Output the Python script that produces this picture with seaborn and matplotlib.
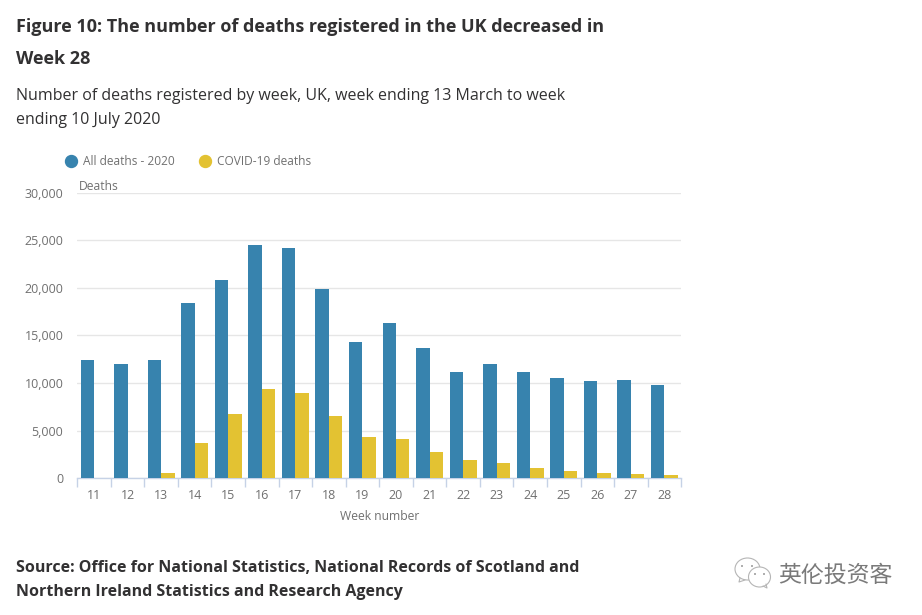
import numpy as np
import pandas as pd
import matplotlib
matplotlib.use("Agg")
import matplotlib.pyplot as plt
from matplotlib.lines import Line2D
from matplotlib.patches import Ellipse
from matplotlib.ticker import FuncFormatter, FixedLocator
import seaborn as sns

weeks = [str(w) for w in range(11, 29)]
all_deaths = [12440, 11990, 12440, 18420, 20830, 24490, 24180, 19880, 14290,
              16290, 13690, 11140, 11990, 11140, 10490, 10240, 10290, 9790]
covid_deaths = [0, 0, 550, 3700, 6740, 9360, 8940, 6530, 4300,
                4100, 2750, 1900, 1600, 1050, 750, 550, 400, 300]
series_names = ["All deaths - 2020", "COVID-19 deaths"]
colors = ["#3783ae", "#e3c232"]

sns.set_theme(style="white")
plt.rcParams["font.family"] = ["Open Sans", "DejaVu Sans"]

W, H = 922, 615
fig = plt.figure(figsize=(W / 100, H / 100), dpi=100, facecolor="white")
ax = fig.add_axes([77.2 / W, 1 - 478.2 / H, 604 / W, 285.6 / H])

df = pd.DataFrame({
    "week": weeks * 2,
    "deaths": all_deaths + covid_deaths,
    "series": [series_names[0]] * 18 + [series_names[1]] * 18,
})
sns.barplot(data=df, x="week", y="deaths", hue="series", hue_order=series_names,
            palette=colors, saturation=1, width=0.8, dodge=True, gap=0,
            legend=False, ax=ax, zorder=3, linewidth=0)

ax.set_xlim(-0.5, 17.5)
ax.set_ylim(0, 30000)
ax.set_yticks(range(0, 30001, 5000))
ax.yaxis.set_major_formatter(FuncFormatter(lambda v, _: f"{int(v):,}"))
ax.grid(axis="y", color="#e6e6e6", linewidth=1, zorder=0)
ax.set_axisbelow(True)
for s in ["top", "right", "left"]:
    ax.spines[s].set_visible(False)
ax.spines["bottom"].set_color("#c6d2e6")
ax.spines["bottom"].set_linewidth(1.0)
ax.tick_params(axis="y", length=0, labelsize=9.0, labelcolor="#707070", pad=10)
ax.tick_params(axis="x", which="major", length=0, labelsize=9.0, labelcolor="#707070", pad=7.5)
ax.xaxis.set_minor_locator(FixedLocator(np.arange(-0.5, 18, 1)))
ax.tick_params(axis="x", which="minor", length=6.5, width=1.0, color="#c6d2e6", bottom=True)
ax.set_xlabel("Week number", fontsize=8.7, color="#707070", labelpad=6)
ax.set_ylabel("")


def px(x, y, s, **kw):
    return fig.text(x / W, 1 - y / H, s, va="baseline", ha=kw.pop("ha", "left"), **kw)


dark = "#323132"
px(15.5, 32, "Figure 10: The number of deaths registered in the UK decreased in",
   fontsize=13.0, fontweight="bold", color=dark)
px(15.5, 64, "Week 28", fontsize=13.0, fontweight="bold", color=dark)
px(15.5, 100, "Number of deaths registered by week, UK, week ending 13 March to week",
   fontsize=11.49, color=dark)
px(15.5, 124, "ending 10 July 2020", fontsize=11.49, color=dark)
px(78.5, 190, "Deaths", fontsize=8.7, color="#707070")
px(15.5, 572, "Source: Office for National Statistics, National Records of Scotland and",
   fontsize=11.49, fontweight="bold", color=dark)
px(15.5, 596, "Northern Ireland Statistics and Research Agency",
   fontsize=11.49, fontweight="bold", color=dark)

# Legend
handles = [Line2D([], [], marker="o", linestyle="", markersize=8.6, color=c) for c in colors]
fig.legend(handles, series_names, loc="upper left", bbox_to_anchor=(62.5 / W, 1 - 155.2 / H),
           ncol=2, frameon=False, fontsize=8.55, labelcolor="#707070", handletextpad=0.25,
           columnspacing=1.8, borderpad=0, borderaxespad=0, handlelength=1.5)

# Watermark
px(778, 582, "英伦投资客", fontsize=16.5, color="#7a7a7a",
   family=["Noto Sans CJK SC", "DejaVu Sans"])
ov = fig.add_axes([0, 0, 1, 1], facecolor="none")
ov.set_xlim(0, W)
ov.set_ylim(H, 0)
ov.axis("off")
ov.plot([740, 739, 745], [578, 582, 580], color="#b5b5b5", linewidth=0.8)
ov.plot([763, 767, 766], [586, 588, 584], color="#b5b5b5", linewidth=0.8)
for (cx, cy, w, h) in [(747.5, 569, 25, 22), (759.5, 577, 22, 20)]:
    ov.add_patch(Ellipse((cx, cy), w, h, facecolor="white", edgecolor="#b5b5b5", linewidth=0.8))
for (ex, ey) in [(742, 566), (752, 566), (755, 574), (764, 574)]:
    ov.add_patch(Ellipse((ex, ey), 2, 2, facecolor="#9a9a9a", edgecolor="none"))

fig.savefig("out.png", dpi=100, facecolor="white")
